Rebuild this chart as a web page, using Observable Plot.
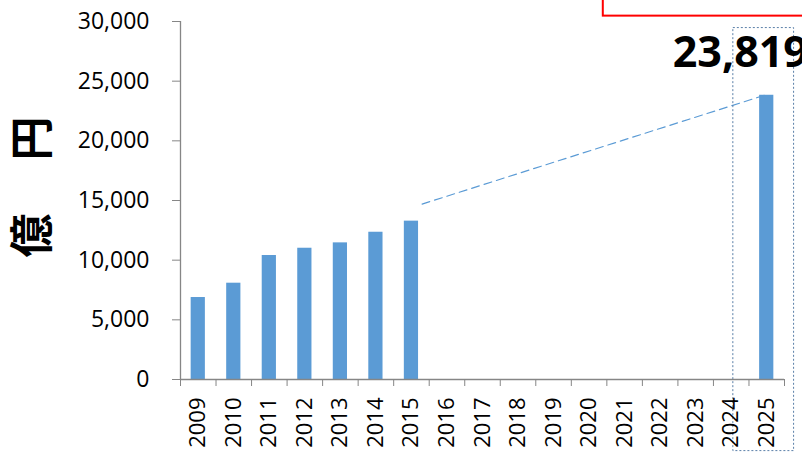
<!DOCTYPE html>
<html>
<head>
<meta charset="utf-8">
<script src="https://cdn.jsdelivr.net/npm/d3@7"></script>
<script src="https://cdn.jsdelivr.net/npm/@observablehq/plot@0.6"></script>
<style>
  html, body { margin: 0; padding: 0; background: #fff; overflow: hidden; }
</style>
</head>
<body>
<div id="chart"></div>
<script>
// Category (year) axis labels
const years = [2009, 2010, 2011, 2012, 2013, 2014, 2015, 2016, 2017, 2018, 2019, 2020, 2021, 2022, 2023, 2024, 2025];
// Bars that carry values (億円)
const barYears = [2009, 2010, 2011, 2012, 2013, 2014, 2015, 2025];
const barValues = [6870, 8070, 10390, 11000, 11450, 12340, 13270, 23819];
// Y tick labels
const yTicks = [0, 5000, 10000, 15000, 20000, 25000, 30000];
// Dashed trend connector (year position, value)
const trendX = [2015.3, 2024.95];
const trendY = [14700, 23830];
// Highlight label
const highlightLabel = "23,819";
const axisTitle = ["億", "円"];

const bars = barYears.map((y, i) => ({year: y, value: barValues[i]}));
const trend = trendX.map((x, i) => ({x, y: trendY[i]}));
const boundaries = years.map(y => y - 0.5).concat([years[years.length - 1] + 0.5]);
const highlight = [{year: 2025, value: 23819, label: highlightLabel}];
const dottedBox = [{x1: 2024.06, x2: 2025.77, y1: -6000, y2: 29450}];
const calloutBox = [{x1: 2020.4, x2: 2027.5, y1: 30450, y2: 33500}];

const grey = "#868686";
const blue = "#5b9bd5";

const chart = Plot.plot({
  width: 802,
  height: 452,
  marginLeft: 180,
  marginRight: 18,
  marginTop: 21,
  marginBottom: 73,
  x: {type: "linear", domain: [2008.5, 2025.5], label: null},
  y: {domain: [0, 30000], label: null},
  style: {fontFamily: "'Open Sans', sans-serif", fontSize: "22px", color: "#000", background: "white", overflow: "visible"},
  marks: [
    Plot.rect(calloutBox, {x1: "x1", x2: "x2", y1: "y1", y2: "y2", fill: "white", stroke: "#ff0000", strokeWidth: 2}),
    Plot.rectY(bars, {x1: d => d.year - 0.2, x2: d => d.year + 0.2, y: "value", fill: blue}),
    Plot.line(trend, {x: "x", y: "y", stroke: blue, strokeWidth: 1.2, strokeDasharray: "8,5"}),
    Plot.rect(dottedBox, {x1: "x1", x2: "x2", y1: "y1", y2: "y2", fill: "none", stroke: "#5a7fa8", strokeWidth: 1, strokeDasharray: "2,2"}),
    Plot.ruleY([0], {stroke: grey, strokeWidth: 1.3}),
    Plot.ruleX([2008.5], {y1: 0, y2: 30000, stroke: grey, strokeWidth: 1.3}),
    Plot.axisY({ticks: yTicks, tickSize: 8, tickPadding: 23, tickFormat: d3.format(","), stroke: grey, fill: "#000", fontSize: 23, label: null}),
    Plot.axisX({ticks: boundaries, tickSize: 7, tickFormat: () => "", stroke: grey, label: null}),
    Plot.axisX({ticks: years, tickSize: 0, tickPadding: 18, tickRotate: -90, tickFormat: d => String(d), fill: "#000", fontSize: 22, label: null}),
    Plot.text(highlight, {x: "year", y: "value", text: "label", textAnchor: "start", dx: -94, dy: -42, fontSize: 43, fontWeight: "bold", fill: "#000"}),
    Plot.text([axisTitle[1]], {frameAnchor: "left", dx: -147, dy: -40, rotate: -90, fontSize: 44, fontWeight: "bold", fontFamily: "'Noto Sans CJK JP', sans-serif", fill: "#000"}),
    Plot.text([axisTitle[0]], {frameAnchor: "left", dx: -147, dy: 57, rotate: -90, fontSize: 44, fontWeight: "bold", fontFamily: "'Noto Sans CJK JP', sans-serif", fill: "#000"})
  ]
});
document.getElementById("chart").appendChild(chart);
</script>
</body>
</html>
